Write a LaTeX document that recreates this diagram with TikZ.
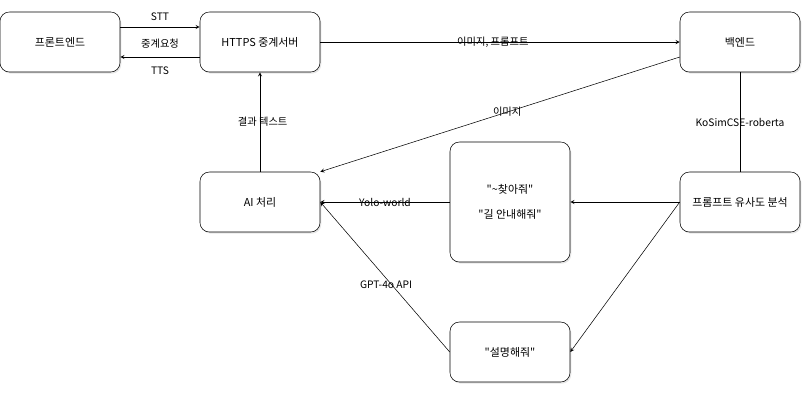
\documentclass[tikz,border=0pt]{standalone}
\usepackage{fontspec}
\setmainfont{Noto Sans CJK KR}[Ligatures=TeXOff]
\usetikzlibrary{shadows}
\begin{document}
\begin{tikzpicture}[x=0.75pt, y=-0.75pt, font=\fontsize{8.2}{10}\selectfont, line join=round, >=stealth,
  box/.style={draw, rounded corners=7pt, minimum width=90pt, minimum height=45pt, align=center, fill=white,
    drop shadow={opacity=0.2, shadow xshift=1pt, shadow yshift=-1.2pt}},
  lab/.style={font=\fontsize{7.7}{9}\selectfont}];
\useasboundingbox (0,0) rectangle (812,394);
\node[box] (front) at (60,42) {프론트엔드};
\node[box] (relay) at (260,42) {HTTPS 중계서버};
\node[box] (backend) at (740,42) {백엔드};
\node[box] (ai) at (260,202) {AI 처리};
\node[box, minimum height=90pt] (find) at (510,202) {"\textasciitilde 찾아줘"\\[9pt]"길 안내해줘"};
\node[box] (sim) at (740,202) {프롬프트 유사도 분석};
\node[box] (explain) at (510,352) {"설명해줘"};
\draw[->] ([yshift=11.25pt]front.east) -- ([yshift=11.25pt]relay.west) node[lab, midway, above=1pt] {STT};
\draw[->] ([yshift=-11.25pt]relay.west) -- ([yshift=-11.25pt]front.east) node[lab, midway, above=3pt] {중계요청} node[lab, midway, below=4pt] {TTS};
\draw[->] (relay) -- (backend) node[lab, pos=0.48] {이미지, 프롬프트};
\draw[->] ([yshift=-11.25pt]backend.west) -- (ai.north east) node[lab, pos=0.48] {이미지};
\draw (backend) -- (sim) node[lab, midway] {KoSimCSE-roberta};
\draw[->] (ai) -- (relay) node[lab, midway, xshift=2pt] {결과 텍스트};
\draw[->] (sim) -- (find);
\draw[->] (find) -- (ai.east) node[lab, midway] {Yolo-world};
\draw[->] (sim.west) -- (explain.east);
\draw[->] (explain.west) -- (ai.east) node[lab, pos=0.45, xshift=-4pt] {GPT-4o API};
\end{tikzpicture}
\end{document}
